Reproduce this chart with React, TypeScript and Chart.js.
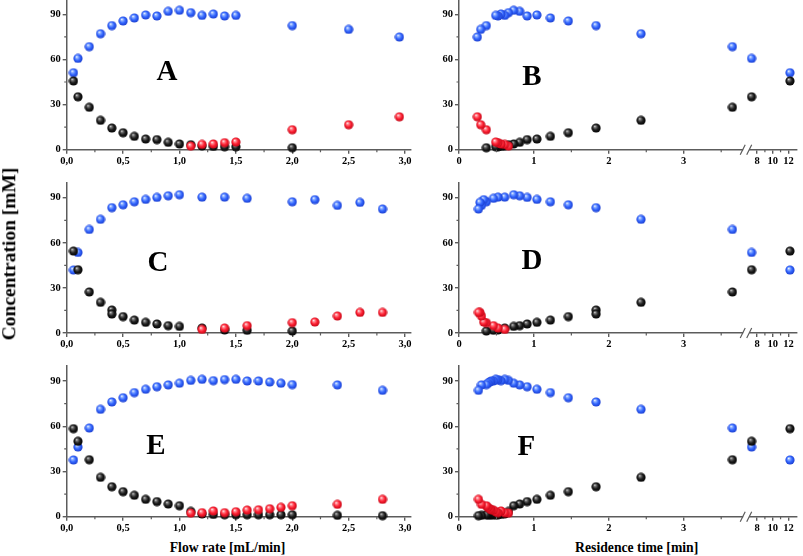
import React, { useEffect, useRef } from "react";
import { Chart, registerables } from "chart.js";

Chart.register(...registerables);

const FONT = '"Liberation Serif", "Times New Roman", Times, serif';
const AXIS = "#5c5c5c";

// ---------- Panels A (flow rate) / B (residence time) ----------
const flowA = [0.06, 0.1, 0.2, 0.3, 0.4, 0.5, 0.6, 0.7, 0.8, 0.9, 1.0, 1.1, 1.2, 1.3, 1.4, 1.5, 2.0, 2.5, 2.95];
const timeB = [12.2, 7.3, 3.65, 2.43, 1.83, 1.46, 1.22, 1.04, 0.91, 0.81, 0.73, 0.66, 0.61, 0.56, 0.52, 0.49, 0.365, 0.29, 0.245];
const blueA = [51.2, 60.7, 68.5, 77.1, 82.5, 85.6, 87.6, 89.6, 88.9, 92.0, 92.7, 91.1, 89.3, 90.2, 88.9, 89.3, 82.5, 80.0, 74.9];
const blackA = [45.7, 35.2, 28.2, 19.5, 14.4, 11.3, 8.9, 7.1, 6.7, 4.9, 3.8, 3.3, 2.5, 2.2, 2.0, 2.0, 1.3, null, null];
const redA = [null, null, null, null, null, null, null, null, null, null, null, 2.4, 3.5, 3.8, 4.7, 5.1, 13.3, 16.6, 21.9];

// ---------- Panels C / D ----------
const flowC = [0.06, 0.1, 0.2, 0.3, 0.4, 0.4, 0.5, 0.6, 0.7, 0.8, 0.9, 1.0, 1.2, 1.4, 1.6, 2.0, 2.2, 2.4, 2.6, 2.8];
const timeD = [12.2, 7.3, 3.65, 2.43, 1.83, 1.83, 1.46, 1.22, 1.04, 0.91, 0.81, 0.73, 0.61, 0.52, 0.46, 0.365, 0.33, 0.3, 0.28, 0.26];
const blueC = [41.9, 53.6, 68.9, 75.6, 83.4, null, 85.3, 87.3, 88.9, 90.2, 91.3, 92.0, 90.4, 90.4, 89.6, 87.3, 88.7, 84.9, 86.9, 82.5];
const blackC = [54.5, 42.1, 27.3, 20.4, 15.3, 12.6, 10.9, 8.6, 7.1, 6.0, 4.9, 4.4, 3.3, 2.0, 1.8, 1.3, null, null, null, null];
const redC = [null, null, null, null, null, null, null, null, null, null, null, null, 2.4, 3.3, 4.9, 6.9, 7.3, 11.3, 13.7, 13.7];

// ---------- Panels E / F ----------
const flowE = [0.06, 0.1, 0.2, 0.3, 0.4, 0.5, 0.6, 0.7, 0.8, 0.9, 1.0, 1.1, 1.2, 1.3, 1.4, 1.5, 1.6, 1.7, 1.8, 1.9, 2.0, 2.4, 2.8];
const timeF = [12.2, 7.3, 3.65, 2.43, 1.83, 1.46, 1.22, 1.04, 0.91, 0.81, 0.73, 0.66, 0.61, 0.56, 0.52, 0.49, 0.46, 0.43, 0.41, 0.385, 0.365, 0.3, 0.26];
const blueE = [37.6, 46.2, 58.8, 71.2, 76.1, 78.9, 82.3, 84.5, 86.2, 87.4, 88.5, 90.4, 91.1, 90.2, 90.9, 91.1, 90.0, 90.0, 89.3, 88.5, 87.6, 87.4, 83.8];
const blackE = [58.4, 50.0, 37.8, 26.1, 19.9, 16.6, 14.2, 11.5, 10.0, 8.4, 7.3, 3.5, 1.8, 1.5, 1.3, 1.3, 1.3, 1.3, 1.3, 1.3, 1.3, 0.9, 0.7];
const redE = [null, null, null, null, null, null, null, null, null, null, null, 2.4, 2.7, 3.8, 2.7, 3.3, 4.4, 4.6, 5.3, 6.2, 7.3, 8.2, 11.5];

// ---------- Axes ----------
const flowTicks = [0, 0.5, 1, 1.5, 2, 2.5, 3];
const flowTickLabels = ["0,0", "0,5", "1,0", "1,5", "2,0", "2,5", "3,0"];
const flowMinor = [0.25, 0.75, 1.25, 1.75, 2.25, 2.75];
const timeTicks = [0, 1, 2, 3, 8, 10, 12];
const timeTickLabels = ["0", "1", "2", "3", "8", "10", "12"];
const timeMinor = [0.5, 1.5, 2.5, 3.5, 9, 11];
const concTicks = [0, 30, 60, 90];
const concTickLabels = ["0", "30", "60", "90"];
const concMinor = [15, 45, 75];

// broken residence-time axis: 0..3.8 linear, then compressed 6.6..13.1
const BREAK_LO = 3.8;
const BREAK_POS = 3.834;
const SEG2_AT8 = 3.979;
const SEG2_SCALE = 0.1045;
const brk = (t: number) => (t <= BREAK_LO ? t : SEG2_AT8 + (t - 8) * SEG2_SCALE);

function makeSphere(hi: string, light: string, base: string, dark: string): HTMLCanvasElement {
  const size = 10;
  const c = document.createElement("canvas");
  c.width = size;
  c.height = size;
  const g = c.getContext("2d")!;
  const grad = g.createRadialGradient(3.6, 3.2, 0.1, 5, 5, 5.0);
  grad.addColorStop(0, hi);
  grad.addColorStop(0.22, light);
  grad.addColorStop(0.55, base);
  grad.addColorStop(1, dark);
  g.fillStyle = grad;
  g.beginPath();
  g.arc(5, 5, 4.6, 0, Math.PI * 2);
  g.fill();
  return c;
}

type Panel = {
  letter: string;
  lx: number;
  ly: number;
  xs: number[];
  blue: (number | null)[];
  black: (number | null)[];
  red: (number | null)[];
  broken: boolean;
  left: number; // chart area
  right: number;
  top: number;
  bottom: number;
  canvasLeft: number;
  canvasWidth: number;
  yWidth: number;
};

const ROWS = [
  { top: -0.7, bottom: 149.7 },
  { top: 182.7, bottom: 333.0 },
  { top: 365.9, bottom: 516.7 },
];
const LEFTCOL = { left: 66.7, right: 410.7, canvasLeft: 0, canvasWidth: 420, yWidth: 40 };
const RIGHTCOL = { left: 459, right: 801.7, canvasLeft: 420, canvasWidth: 383, yWidth: 30 };

const PANELS: Panel[] = [
  { letter: "A", lx: 0.89, ly: 46.3, xs: flowA, blue: blueA, black: blackA, red: redA, broken: false, ...ROWS[0], ...LEFTCOL },
  { letter: "B", lx: 0.975, ly: 43.0, xs: timeB, blue: blueA, black: blackA, red: redA, broken: true, ...ROWS[0], ...RIGHTCOL },
  { letter: "C", lx: 0.81, ly: 41.3, xs: flowC, blue: blueC, black: blackC, red: redC, broken: false, ...ROWS[1], ...LEFTCOL },
  { letter: "D", lx: 0.975, ly: 42.4, xs: timeD, blue: blueC, black: blackC, red: redC, broken: true, ...ROWS[1], ...RIGHTCOL },
  { letter: "E", lx: 0.79, ly: 41.4, xs: flowE, blue: blueE, black: blackE, red: redE, broken: false, ...ROWS[2], ...LEFTCOL },
  { letter: "F", lx: 0.9, ly: 40.9, xs: timeF, blue: blueE, black: blackE, red: redE, broken: true, ...ROWS[2], ...RIGHTCOL },
];

const X_HEIGHT = 22;

function geom(p: Panel) {
  const ct = Math.floor(p.top - 10);
  const ch = Math.ceil(p.bottom + X_HEIGHT - ct);
  return {
    ct,
    ch,
    pad: {
      left: p.left - p.canvasLeft - p.yWidth,
      right: p.canvasLeft + p.canvasWidth - p.right,
      top: p.top - ct,
      bottom: ct + ch - X_HEIGHT - p.bottom,
    },
  };
}

function PanelChart({ p }: { p: Panel }) {
  const ref = useRef<HTMLCanvasElement | null>(null);
  const g = geom(p);
  useEffect(() => {
    if (!ref.current) return;
    const blueS = makeSphere("#ffffff", "#8fb2ff", "#3467ff", "#1637c8");
    const blackS = makeSphere("#e0e0e0", "#707070", "#1c1c1c", "#000000");
    const redS = makeSphere("#ffffff", "#ff8a92", "#ff2234", "#b8000f");
    const mapX = (x: number) => (p.broken ? brk(x) : x);
    const pts = (ys: (number | null)[]) =>
      p.xs
        .map((x, i) => (ys[i] == null ? null : { x: mapX(x), y: ys[i] as number }))
        .filter((d) => d !== null) as { x: number; y: number }[];
    const xTickVals = p.broken ? timeTicks.map(brk) : flowTicks;
    const xLabels = p.broken ? timeTickLabels : flowTickLabels;
    const xMinor = p.broken ? timeMinor.map(brk) : flowMinor;
    const tickFont = { family: FONT, size: 10.5, weight: "bold" as const };

    const deco = {
      id: "deco" + p.letter,
      afterDraw(chart: any) {
        const ctx = chart.ctx;
        const xs = chart.scales.x;
        const ys = chart.scales.y;
        const ca = chart.chartArea;
        ctx.save();
        ctx.strokeStyle = AXIS;
        ctx.lineWidth = 1.2;
        ctx.beginPath();
        for (const v of xMinor) {
          const px = xs.getPixelForValue(v);
          ctx.moveTo(px, ca.bottom);
          ctx.lineTo(px, ca.bottom + 2.5);
        }
        for (const v of concMinor) {
          const py = ys.getPixelForValue(v);
          ctx.moveTo(ca.left, py);
          ctx.lineTo(ca.left - 2.5, py);
        }
        ctx.stroke();
        if (p.broken) {
          const bx = xs.getPixelForValue(BREAK_POS);
          const by = ca.bottom;
          ctx.fillStyle = "#ffffff";
          ctx.fillRect(bx - 3, by - 2, 6, 4);
          ctx.lineWidth = 1.2;
          ctx.beginPath();
          ctx.moveTo(bx - 6, by + 5);
          ctx.lineTo(bx - 1, by - 5);
          ctx.moveTo(bx + 0.5, by + 5);
          ctx.lineTo(bx + 5.5, by - 5);
          ctx.stroke();
        }
        ctx.fillStyle = "#000";
        ctx.font = `bold 29px ${FONT}`;
        ctx.textAlign = "center";
        ctx.textBaseline = "alphabetic";
        ctx.fillText(p.letter, xs.getPixelForValue(p.lx), ys.getPixelForValue(p.ly));
        ctx.restore();
      },
    };

    const ds = (data: any, style: HTMLCanvasElement, label: string) => ({
      label,
      data,
      pointStyle: style,
      pointRadius: 5,
      showLine: false,
      clip: false as any,
    });

    const chart = new Chart(ref.current, {
      type: "scatter",
      data: {
        datasets: [
          ds(pts(p.red), redS, "red"),
          ds(pts(p.black), blackS, "black"),
          ds(pts(p.blue), blueS, "blue"),
        ],
      },
      options: {
        responsive: false,
        animation: false,
        events: [],
        layout: { padding: g.pad },
        plugins: { legend: { display: false }, tooltip: { enabled: false } },
        scales: {
          x: {
            type: "linear",
            min: 0,
            max: p.broken ? brk(13.1) : 3.05,
            afterFit: (s: any) => {
              s.height = X_HEIGHT;
            },
            afterBuildTicks: (s: any) => {
              s.ticks = xTickVals.map((v) => ({ value: v }));
            },
            ticks: {
              autoSkip: false,
              maxRotation: 0,
              padding: 1,
              color: "#000",
              font: tickFont,
              callback: (_v: any, i: number) => xLabels[i],
            },
            grid: { drawOnChartArea: false, drawTicks: true, tickLength: 4, color: AXIS, lineWidth: 1.4 },
            border: { display: true, color: AXIS, width: 1.5 },
          },
          y: {
            type: "linear",
            min: 0,
            max: 100,
            afterFit: (s: any) => {
              s.width = p.yWidth;
            },
            afterBuildTicks: (s: any) => {
              s.ticks = concTicks.map((v) => ({ value: v }));
            },
            ticks: {
              autoSkip: false,
              padding: 2,
              color: "#000",
              font: tickFont,
              callback: (_v: any, i: number) => concTickLabels[i],
            },
            grid: { drawOnChartArea: false, drawTicks: true, tickLength: 4, color: AXIS, lineWidth: 1.4 },
            border: { display: true, color: AXIS, width: 1.5 },
          },
        },
      },
      plugins: [deco],
    });
    return () => chart.destroy();
  }, []);
  return (
    <canvas
      ref={ref}
      width={p.canvasWidth}
      height={g.ch}
      style={{ position: "absolute", left: p.canvasLeft, top: g.ct, width: p.canvasWidth, height: g.ch }}
    />
  );
}

const titleStyle: React.CSSProperties = {
  position: "absolute",
  fontFamily: FONT,
  fontWeight: "bold",
  color: "#000",
  whiteSpace: "nowrap",
  lineHeight: 1,
};

export default function App() {
  return (
    <div style={{ position: "absolute", left: 0, top: 0, width: 803, height: 556, background: "#fff", overflow: "hidden" }}>
      {PANELS.map((p) => (
        <PanelChart key={p.letter} p={p} />
      ))}
      <div style={{ ...titleStyle, left: 227.5, top: 548, fontSize: 13.7, transform: "translate(-50%, -50%)" }}>
        Flow rate [mL/min]
      </div>
      <div style={{ ...titleStyle, left: 636.7, top: 548, fontSize: 13.7, transform: "translate(-50%, -50%)" }}>
        Residence time [min]
      </div>
      <div
        style={{
          ...titleStyle,
          left: 9,
          top: 254,
          fontSize: 19.5,
          transform: "translate(-50%, -50%) rotate(-90deg)",
        }}
      >
        Concentration [mM]
      </div>
    </div>
  );
}
